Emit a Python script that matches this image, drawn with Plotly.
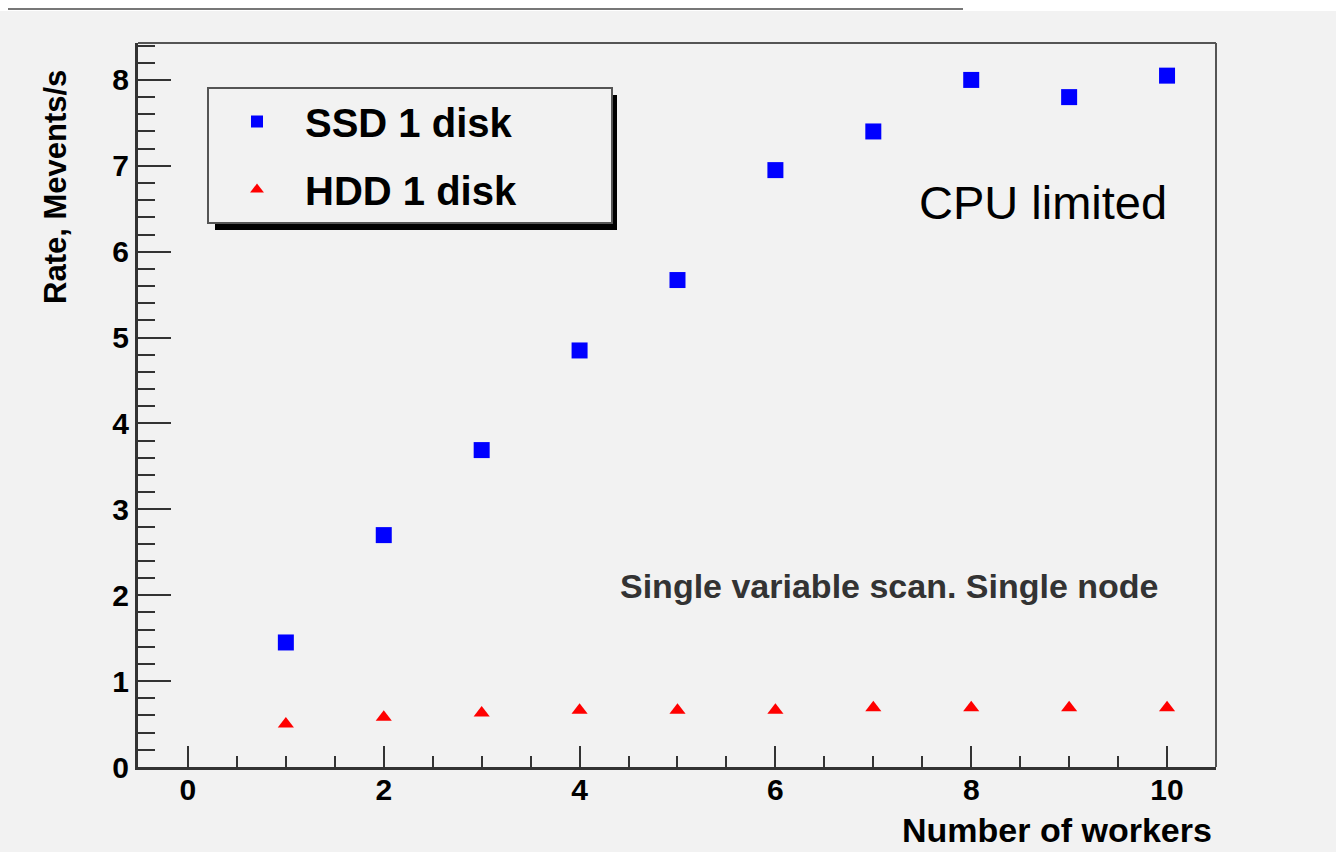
import plotly.graph_objects as go

workers = [1, 2, 3, 4, 5, 6, 7, 8, 9, 10]
ssd_rate = [1.45, 2.70, 3.69, 4.85, 5.67, 6.95, 7.40, 8.00, 7.80, 8.05]
hdd_rate = [0.50, 0.58, 0.63, 0.66, 0.66, 0.66, 0.69, 0.69, 0.69, 0.69]
x_ticks = [0, 2, 4, 6, 8, 10]
y_ticks = [0, 1, 2, 3, 4, 5, 6, 7, 8]

W, H = 1336, 855
L, R, T, B = 138, 1216, 43, 767


def px(x):
    return (x - L) / (R - L)


def py(y):
    return (B - y) / (B - T)


FONT = "Liberation Sans, Arial, Helvetica, sans-serif"
PAD = "\u00a0" * 8

fig = go.Figure()
fig.add_trace(go.Scatter(
    x=workers, y=ssd_rate, mode="markers", name="SSD 1 disk" + PAD,
    marker=dict(symbol="square", size=16, color="#0000ff"),
    legendgroup="a",
))
fig.add_trace(go.Scatter(
    x=workers, y=hdd_rate, mode="markers", name="HDD 1 disk" + PAD,
    marker=dict(symbol="triangle-up", size=14, color="#ff0000"),
    legendgroup="b",
))

shapes = [
    dict(type="rect", xref="paper", yref="paper", x0=px(0), x1=px(W), y0=py(0), y1=py(11),
         fillcolor="white", line=dict(width=0), layer="below"),
    dict(type="line", xref="paper", yref="paper", x0=px(8), x1=px(963), y0=py(9), y1=py(9),
         line=dict(color="#777777", width=2)),
    dict(type="rect", xref="paper", yref="paper", x0=px(0), x1=px(W), y0=py(852), y1=py(H),
         fillcolor="white", line=dict(width=0), layer="below"),
    dict(type="rect", xref="paper", yref="paper", x0=px(215), x1=px(617), y0=py(95), y1=py(230),
         fillcolor="black", line=dict(width=0)),
    dict(type="line", xref="paper", yref="paper", x0=0, x1=1, y0=1, y1=1,
         line=dict(color="#555555", width=2)),
    dict(type="line", xref="paper", yref="paper", x0=1, x1=1, y0=0, y1=1,
         line=dict(color="#555555", width=2)),
]

annotations = [
    dict(text="CPU limited", xref="paper", yref="paper", x=px(917), y=py(202),
         xanchor="left", yanchor="middle", showarrow=False,
         font=dict(family=FONT, size=47, color="black")),
    dict(text="<b>Single variable scan. Single node</b>", xref="paper", yref="paper",
         x=px(1161), y=py(586), xanchor="right", yanchor="middle", showarrow=False,
         font=dict(family=FONT, size=34, color="#333333")),
    dict(text="<b>Number of workers</b>", xref="paper", yref="paper",
         x=px(1214), y=py(830), xanchor="right", yanchor="middle", showarrow=False,
         font=dict(family=FONT, size=34, color="black")),
    dict(text="<b>Rate, Mevents/s</b>", xref="paper", yref="paper",
         x=px(55), y=py(68), xanchor="center", yanchor="top", textangle=-90, showarrow=False,
         font=dict(family=FONT, size=31, color="black")),
]

fig.update_layout(
    width=W, height=H,
    margin=dict(l=L, r=W - R, t=T, b=H - B),
    paper_bgcolor="#f2f2f2", plot_bgcolor="#f2f2f2",
    font=dict(family=FONT, color="black"),
    shapes=shapes, annotations=annotations,
    showlegend=True,
    legend=dict(
        x=px(207), y=py(87), xanchor="left", yanchor="top",
        bgcolor="#f2f2f2", bordercolor="#555555", borderwidth=2,
        font=dict(family=FONT, size=40, color="black", weight="bold"),
        tracegroupgap=13, itemsizing="constant", itemwidth=86,
    ),
    xaxis=dict(
        range=[-0.51, 10.5], tickvals=x_ticks, ticks="inside", ticklen=21, tickwidth=2,
        tickcolor="#333333", showgrid=False, zeroline=False,
        showline=True, linecolor="#333333", linewidth=3,
        ticklabelstandoff=-6,
        tickfont=dict(family=FONT, size=30, color="black", weight="bold"),
        minor=dict(dtick=0.5, tick0=0, ticks="inside", ticklen=11, tickwidth=2, tickcolor="#333333", showgrid=False),
    ),
    yaxis=dict(
        range=[0, 8.43], tickvals=y_ticks, ticks="inside", ticklen=33, tickwidth=2,
        tickcolor="#333333", showgrid=False, zeroline=False,
        showline=True, linecolor="#333333", linewidth=3,
        tickfont=dict(family=FONT, size=30, color="black", weight="bold"),
        minor=dict(dtick=0.2, tick0=0, ticks="inside", ticklen=17, tickwidth=2, tickcolor="#333333", showgrid=False),
    ),
)

fig.write_html("out.html")
